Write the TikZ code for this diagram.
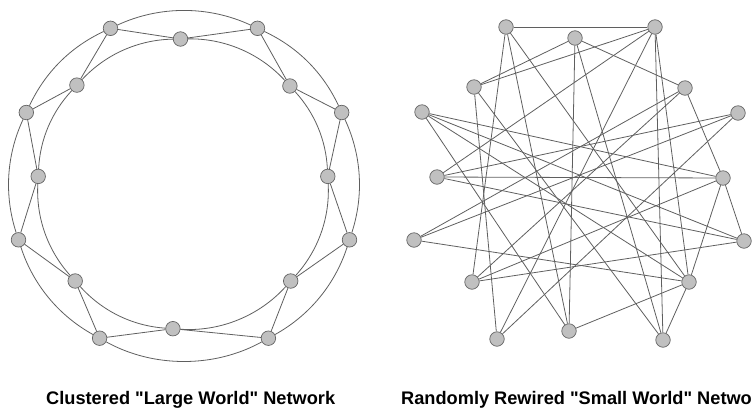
\documentclass[tikz,border=0pt]{standalone}
\usepackage{fontspec}
\setmainfont{Liberation Sans}[Ligatures=TeXOff]
\definecolor{ndfill}{RGB}{192,192,192}
\definecolor{ndedge}{RGB}{100,100,100}
\definecolor{edgec}{RGB}{95,95,95}
\begin{document}
\begin{tikzpicture}[x=1pt,y=-1pt,
  nd/.style={circle, draw=ndedge, fill=ndfill, line width=0.7pt, minimum size=14.5pt, inner sep=0pt},
  ed/.style={draw=edgec, line width=0.8pt},
  arcr/.style={ed, looseness=0.89},
  captxt/.style={anchor=base west, inner sep=0pt, font=\fontsize{18.2}{21}\selectfont\bfseries}]
\useasboundingbox (0,0) rectangle (752,408);
% ---------- left network ----------
\node[nd] (A) at (110.5,28.3) {};
\node[nd] (B) at (180.5,39.0) {};
\node[nd] (C) at (257.5,28.3) {};
\node[nd] (E) at (289.9,86.0) {};
\node[nd] (G) at (341.7,112.5) {};
\node[nd] (I) at (327.8,176.4) {};
\node[nd] (K) at (349.5,239.8) {};
\node[nd] (M) at (290.7,281.0) {};
\node[nd] (P) at (268.4,338.2) {};
\node[nd] (O) at (172.9,328.7) {};
\node[nd] (N) at (99.6,338.2) {};
\node[nd] (L) at (75.2,281.0) {};
\node[nd] (J) at (18.5,239.8) {};
\node[nd] (H) at (38.2,176.4) {};
\node[nd] (F) at (26.3,112.5) {};
\node[nd] (D) at (76.9,85.1) {};
% outer ring arcs
\draw[arcr] (A) to[bend left=25] (C);
\draw[arcr] (C) to[bend left=20] (G);
\draw[arcr] (G) to[bend left=21.5] (K);
\draw[arcr] (K) to[bend left=21.5] (P);
\draw[arcr] (P) to[bend left=29] (N);
\draw[arcr] (N) to[bend left=21.5] (J);
\draw[arcr] (J) to[bend left=21.5] (F);
\draw[arcr] (F) to[bend left=20] (A);
% inner ring arcs
\draw[arcr] (B) to[bend left=24.25] (E);
\draw[arcr] (E) to[bend left=19.75] (I);
\draw[arcr] (I) to[bend left=22.5] (M);
\draw[arcr] (M) to[bend left=26] (O);
\draw[arcr] (O) to[bend left=22] (L);
\draw[arcr] (L) to[bend left=22.5] (H);
\draw[arcr] (H) to[bend left=20] (D);
\draw[arcr] (D) to[bend left=23] (B);
% nearest-neighbour edges
\foreach \u/\v in {A/B,B/C,C/E,E/G,G/I,I/K,K/M,M/P,P/O,O/N,N/L,L/J,J/H,H/F,F/D,D/A}
  \draw[ed] (\u) -- (\v);
% ---------- right network ----------
\node[nd] (R1) at (506,27) {};
\node[nd] (R2) at (575,38) {};
\node[nd] (R3) at (655,27) {};
\node[nd] (R4) at (474,87) {};
\node[nd] (R5) at (685,88) {};
\node[nd] (R6) at (422,112) {};
\node[nd] (R7) at (738,113) {};
\node[nd] (R8) at (437,177) {};
\node[nd] (R9) at (723,178) {};
\node[nd] (R10) at (414,240) {};
\node[nd] (R11) at (744,241) {};
\node[nd] (R12) at (472,282) {};
\node[nd] (R13) at (689,282) {};
\node[nd] (R14) at (497,339) {};
\node[nd] (R15) at (569,331) {};
\node[nd] (R16) at (663,340) {};
\foreach \u/\v in {R1/R3,R2/R4,R3/R4,R2/R15,R2/R5,R2/R16,R3/R16,R3/R13,
  R8/R9,R8/R7,R8/R3,R10/R5,R10/R7,R10/R13,R12/R1,R12/R5,R12/R11,R12/R9,
  R14/R4,R14/R3,R14/R7,R6/R15,R1/R15,R15/R13,R13/R9,R9/R11,R5/R9,R6/R9,
  R6/R11,R13/R16,R16/R4,R8/R11,R1/R13,R6/R13}
  \draw[ed] (\u) -- (\v);
% ---------- captions ----------
\node[captxt] (capL) at (46,404.5) {Clustered "Large World" Network};
\node[captxt] (capR) at (401,404.5) {Randomly Rewired "Small World" Network};
\end{tikzpicture}
\end{document}
